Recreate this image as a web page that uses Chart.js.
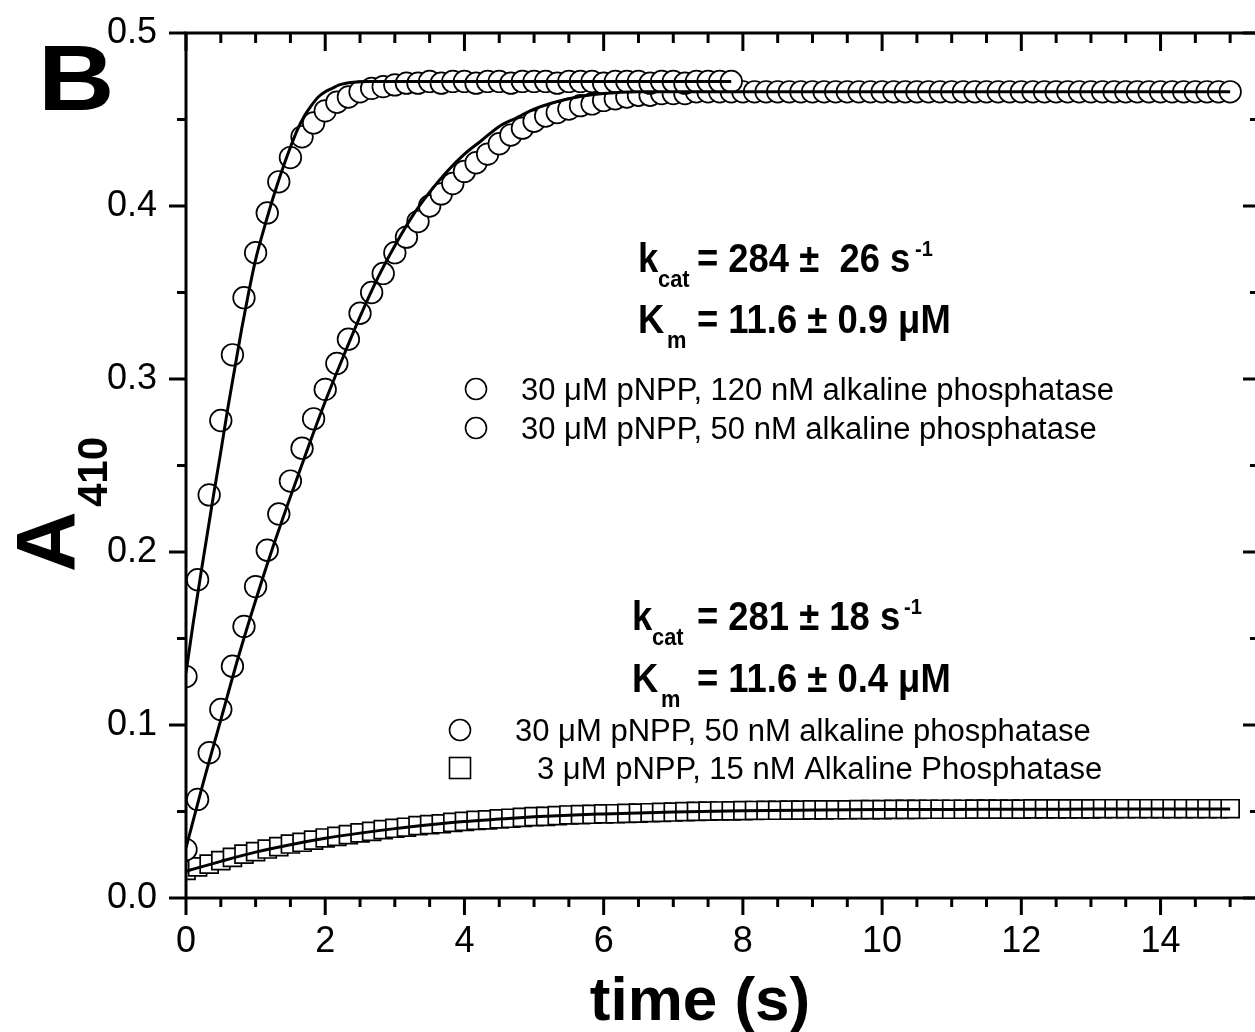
<!DOCTYPE html>
<html>
<head>
<meta charset="utf-8">
<script src="https://cdn.jsdelivr.net/npm/chart.js@4.4.1/dist/chart.umd.min.js"></script>
<style>
html,body{margin:0;padding:0;overflow:hidden;background:#fff;width:1255px;height:1032px}
#wrap{position:relative;width:1262px;height:1032px}
</style>
</head>
<body>
<div id="wrap"><canvas id="c" width="1262" height="1032"></canvas></div>
<script>
// ---- data (time in s, A410) ----
const time = [0,0.167,0.333,0.5,0.667,0.833,1,1.167,1.333,1.5,1.667,1.833,2,2.167,2.333,2.5,2.667,2.833,3,3.167,3.333,3.5,3.667,3.833,4,4.167,4.333,4.5,4.667,4.833,5,5.167,5.333,5.5,5.667,5.833,6,6.167,6.333,6.5,6.667,6.833,7,7.167,7.333,7.5,7.667,7.833,8,8.167,8.333,8.5,8.667,8.833,9,9.167,9.333,9.5,9.667,9.833,10,10.167,10.333,10.5,10.667,10.833,11,11.167,11.333,11.5,11.667,11.833,12,12.167,12.333,12.5,12.667,12.833,13,13.167,13.333,13.5,13.667,13.833,14,14.167,14.333,14.5,14.667,14.833,15];

// 30 uM pNPP, 120 nM alkaline phosphatase (48 points)
const a120 = [0.128,0.184,0.233,0.276,0.314,0.347,0.373,0.396,0.414,0.428,
  0.440,0.448,0.455,0.460,0.463,0.466,0.468,0.469,0.470,0.471,
  0.471,0.472,0.471,0.472,0.472,0.471,0.472,0.472,0.471,0.472,
  0.472,0.472,0.471,0.472,0.472,0.472,0.471,0.472,0.472,0.472,
  0.471,0.472,0.472,0.471,0.472,0.472,0.472,0.472];

// 30 uM pNPP, 50 nM alkaline phosphatase (91 points)
const a50 = [0.028,0.057,0.084,0.109,0.134,0.157,0.180,0.201,0.222,0.241,
  0.260,0.277,0.294,0.309,0.323,0.338,0.350,0.361,0.373,0.382,
  0.391,0.400,0.407,0.413,0.420,0.425,0.430,0.436,0.441,0.445,
  0.449,0.452,0.454,0.456,0.458,0.459,0.461,0.462,0.463,0.464,
  0.464,0.465,0.465,0.465,0.466,0.466,0.466,0.466,0.466,0.466,
  0.466,0.466,0.466,0.466,0.466,0.466,0.466,0.466,0.466,0.466,
  0.466,0.466,0.466,0.466,0.466,0.466,0.466,0.466,0.466,0.466,
  0.466,0.466,0.466,0.466,0.466,0.466,0.466,0.466,0.466,0.466,
  0.466,0.466,0.466,0.466,0.466,0.466,0.466,0.466,0.466,0.466,0.466];

// 3 uM pNPP, 15 nM alkaline phosphatase (91 points)
const a15 = [0.0160,0.0180,0.0196,0.0216,0.0235,0.0254,0.0268,0.0283,0.0297,0.0312,
  0.0322,0.0335,0.0347,0.0356,0.0366,0.0376,0.0385,0.0395,0.0403,0.0409,
  0.0418,0.0424,0.0429,0.0437,0.0443,0.0449,0.0452,0.0457,0.0461,0.0466,
  0.0470,0.0472,0.0476,0.0480,0.0482,0.0484,0.0486,0.0487,0.0489,0.0491,
  0.0493,0.0495,0.0497,0.0499,0.0501,0.0502,0.0503,0.0504,0.0505,0.0506,
  0.0507,0.0507,0.0508,0.0508,0.0509,0.0509,0.0510,0.0510,0.0511,0.0511,
  0.0511,0.0512,0.0512,0.0512,0.0513,0.0513,0.0513,0.0513,0.0514,0.0514,
  0.0514,0.0514,0.0514,0.0515,0.0515,0.0515,0.0515,0.0515,0.0515,0.0516,
  0.0516,0.0516,0.0516,0.0516,0.0516,0.0516,0.0516,0.0516,0.0516,0.0516,0.0516];

// fitted curves
const fit120T = [0,0.1,0.2,0.3,0.4,0.5,0.6,0.7,0.8,0.9,1.0,1.1,1.2,1.3,1.4,1.5,1.6,1.7,1.8,1.9,2.0,2.1,2.2,2.3,2.4,2.6,2.8,3.0,4,5,6,7,7.833];
const fit120Y = [0.130,0.158,0.184,0.209,0.234,0.258,0.283,0.306,0.329,0.350,0.369,0.384,0.398,0.411,0.423,0.434,0.444,0.452,0.458,0.463,0.466,0.468,0.470,0.471,0.4715,0.472,0.472,0.472,0.472,0.472,0.472,0.472,0.472];
const fit50T = [0,0.25,0.5,0.75,1.0,1.25,1.5,1.75,2.0,2.25,2.5,2.75,3.0,3.25,3.5,3.75,4.0,4.25,4.5,4.75,5.0,5.5,6.0,6.5,7.0,8,10,12,15];
const fit50Y = [0.029,0.067,0.103,0.139,0.172,0.203,0.232,0.260,0.287,0.312,0.336,0.358,0.377,0.394,0.408,0.420,0.430,0.438,0.446,0.451,0.456,0.462,0.465,0.466,0.466,0.466,0.466,0.466,0.466];
const fit15T = [0,0.5,1,1.5,2,2.5,3,3.5,4,4.5,5,5.5,6,6.5,7,8,9,10,11,12,13,14,15];
const fit15Y = [0.0155,0.0212,0.0265,0.0308,0.0345,0.0375,0.0401,0.0423,0.0442,0.0456,0.0469,0.0479,0.0486,0.0492,0.0497,0.0504,0.0508,0.0511,0.0512,0.0513,0.0514,0.0515,0.0515];

// axis ticks
const xMajorTicks = [0,2,4,6,8,10,12,14];
const xMinorTicks = [0.5,1,1.5,2.5,3,3.5,4.5,5,5.5,6.5,7,7.5,8.5,9,9.5,10.5,11,11.5,12.5,13,13.5,14.5,15];
const yMajorTicks = [0,0.1,0.2,0.3,0.4,0.5];
const yMinorTicks = [0.05,0.15,0.25,0.35,0.45];

const pts = (xs, ys) => ys.map((v, i) => ({x: xs[i], y: v}));

const FONT = "'Liberation Sans', Arial, Helvetica, sans-serif";

function txt(ctx, s, x, y, font, sx, align) {
  ctx.save();
  ctx.font = font;
  ctx.fillStyle = '#000';
  ctx.textBaseline = 'alphabetic';
  ctx.textAlign = align || 'left';
  ctx.translate(x, y);
  if (sx) ctx.scale(sx, 1);
  ctx.fillText(s, 0, 0);
  ctx.restore();
}

const framePlugin = {
  id: 'frame',
  afterDraw(chart) {
    const {ctx, chartArea: a, scales: {x, y}} = chart;
    ctx.save();
    ctx.strokeStyle = '#000';
    ctx.lineWidth = 3;
    ctx.strokeRect(a.left, a.top, a.right - a.left, a.bottom - a.top);
    const seg = (x1, y1, x2, y2) => { ctx.beginPath(); ctx.moveTo(x1, y1); ctx.lineTo(x2, y2); ctx.stroke(); };
    xMinorTicks.forEach(v => { const p = x.getPixelForValue(v); seg(p, a.bottom, p, a.bottom + 9); seg(p, a.top, p, a.top + 10); });
    xMajorTicks.forEach(v => { const p = x.getPixelForValue(v); seg(p, a.bottom, p, a.bottom + 17); seg(p, a.top, p, a.top + 18); });
    yMinorTicks.forEach(v => { const p = y.getPixelForValue(v); seg(a.left - 9, p, a.left, p); seg(a.right - 8, p, a.right, p); });
    yMajorTicks.forEach(v => { const p = y.getPixelForValue(v); seg(a.left - 17, p, a.left, p); seg(a.right - 15, p, a.right, p); });
    ctx.restore();

    // panel letter
    txt(ctx, 'B', 38, 110, `bold 92px ${FONT}`, 1.15);
    // x title
    txt(ctx, 'time (s)', 700, 1020, `bold 62px ${FONT}`, 0, 'center');
    // y title (rotated)
    ctx.save();
    ctx.translate(75, 572);
    ctx.rotate(-Math.PI / 2);
    ctx.font = `bold 84px ${FONT}`;
    ctx.fillStyle = '#000';
    ctx.fillText('A', 0, 0);
    ctx.restore();
    ctx.save();
    ctx.translate(107, 507);
    ctx.rotate(-Math.PI / 2);
    ctx.font = `bold 42px ${FONT}`;
    ctx.fillStyle = '#000';
    ctx.fillText('410', 0, 0);
    ctx.restore();

    const B = s => `bold ${s}px ${FONT}`;
    const R = s => `${s}px ${FONT}`;
    const sx = 0.91;
    // upper block
    txt(ctx, 'k', 638, 272, B(40), sx);
    txt(ctx, 'cat', 658, 287, B(24), sx);
    txt(ctx, '= 284 \u00b1  26 s', 697, 272, B(40), sx);
    txt(ctx, '-1', 915, 256, B(22), sx);
    txt(ctx, 'K', 638, 333, B(40), sx);
    txt(ctx, 'm', 667, 348, B(24), sx);
    txt(ctx, '= 11.6 \u00b1 0.9 \u03bcM', 697, 333, B(40), sx);
    // lower block
    txt(ctx, 'k', 632, 630, B(40), sx);
    txt(ctx, 'cat', 652, 645, B(24), sx);
    txt(ctx, '= 281 \u00b1 18 s', 697, 630, B(40), sx);
    txt(ctx, '-1', 904, 614, B(22), sx);
    txt(ctx, 'K', 632, 692, B(40), sx);
    txt(ctx, 'm', 661, 707, B(24), sx);
    txt(ctx, '= 11.6 \u00b1 0.4 \u03bcM', 697, 692, B(40), sx);

    // legend entries
    const circ = (cx, cy) => { ctx.save(); ctx.lineWidth = 1.6; ctx.strokeStyle = '#000'; ctx.beginPath(); ctx.arc(cx, cy, 10.5, 0, Math.PI * 2); ctx.stroke(); ctx.restore(); };
    const sq = (cx, cy) => { ctx.save(); ctx.lineWidth = 1.6; ctx.strokeStyle = '#000'; ctx.strokeRect(cx - 10.5, cy - 10.5, 21, 21); ctx.restore(); };
    circ(476, 389); txt(ctx, '30 \u03bcM pNPP, 120 nM alkaline phosphatase', 521, 400, R(31));
    circ(476, 428); txt(ctx, '30 \u03bcM pNPP, 50 nM alkaline phosphatase', 521, 439, R(31));
    circ(460, 730); txt(ctx, '30 \u03bcM pNPP, 50 nM alkaline phosphatase', 515, 741, R(31));
    sq(460, 768); txt(ctx, '3 \u03bcM pNPP, 15 nM Alkaline Phosphatase', 537, 779, R(31));
  }
};

const lineDs = (xs, ys) => ({
  data: pts(xs, ys), showLine: true, borderColor: '#000', borderWidth: 3,
  pointRadius: 0, cubicInterpolationMode: 'monotone', fill: false, order: 0
});
const markDs = (xs, ys, style, r) => ({
  data: pts(xs, ys), showLine: false, pointStyle: style, pointRadius: r,
  pointBorderWidth: 1.7, borderColor: '#000', backgroundColor: '#fff', order: 1
});

new Chart(document.getElementById('c'), {
  type: 'scatter',
  data: {
    datasets: [
      lineDs(fit120T, fit120Y),
      lineDs(fit50T, fit50Y),
      lineDs(fit15T, fit15Y),
      markDs(time.slice(0, a120.length), a120, 'circle', 10.8),
      markDs(time, a50, 'circle', 10.8),
      markDs(time, a15, 'rect', 12.7)
    ]
  },
  options: {
    responsive: false,
    animation: false,
    devicePixelRatio: 1,
    layout: {autoPadding: false, padding: {left: 0, top: 33, right: 4, bottom: 0}},
    plugins: {legend: {display: false}, tooltip: {enabled: false}},
    scales: {
      x: {
        type: 'linear', min: 0, max: 15.4,
        afterFit(s) { s.height = 134; s.paddingLeft = 0; s.paddingRight = 0; },
        afterBuildTicks(s) { s.ticks = xMajorTicks.map(v => ({value: v})); },
        grid: {display: false, drawTicks: false},
        border: {display: false},
        ticks: {color: '#000', font: {family: FONT, size: 36}, padding: 22, maxRotation: 0, autoSkip: false,
          callback: v => String(v)}
      },
      y: {
        type: 'linear', min: 0, max: 0.5,
        afterFit(s) { s.width = 186; s.paddingTop = 0; s.paddingBottom = 0; },
        afterBuildTicks(s) { s.ticks = yMajorTicks.map(v => ({value: v})); },
        grid: {display: false, drawTicks: false},
        border: {display: false},
        ticks: {color: '#000', font: {family: FONT, size: 36}, padding: 29, autoSkip: false,
          callback: v => Number(v).toFixed(1)}
      }
    }
  },
  plugins: [framePlugin]
});
</script>
</body>
</html>
